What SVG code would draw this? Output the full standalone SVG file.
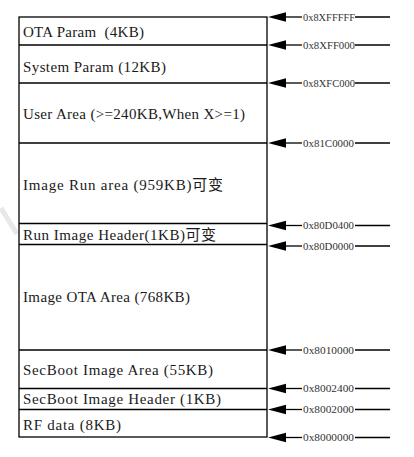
<svg xmlns="http://www.w3.org/2000/svg" xmlns:xlink="http://www.w3.org/1999/xlink" width="414" height="457" viewBox="0 0 414 457">
<style>
.frame{fill:none;stroke:#000;stroke-width:1.3}
.div{stroke:#000;stroke-width:1.3}
.lbl{font-family:"Liberation Serif","Noto Sans CJK SC",serif;font-size:15px;fill:#1a1a1a;white-space:pre}
.addr{font-family:"Liberation Serif",serif;font-size:10.5px;fill:#333}
.cl{stroke:#000;stroke-width:1.3}
</style>
<defs>
<path id="ah" d="M0,0 L18,-4.8 L18,4.8 Z"/>
</defs>
<rect width="414" height="457" fill="#fff"/>
<line x1="1" y1="208" x2="17" y2="234" stroke="#e8e8e8" stroke-width="5"/>
<g id="memory-map">
<rect class="frame" x="19" y="17" width="248" height="420"/>
</g>
<g id="ota-param"><line class="div" x1="19" y1="45" x2="267" y2="45"/><text class="lbl" x="23" y="37" textLength="121" lengthAdjust="spacing" xml:space="preserve">OTA Param  (4KB)</text></g>
<g id="system-param"><line class="div" x1="19" y1="83" x2="267" y2="83"/><text class="lbl" x="23" y="72" textLength="143" lengthAdjust="spacing">System Param (12KB)</text></g>
<g id="user-area"><line class="div" x1="19" y1="143" x2="267" y2="143"/><text class="lbl" x="23" y="118.5" textLength="222" lengthAdjust="spacing">User Area (&gt;=240KB,When X&gt;=1)</text></g>
<g id="image-run-area"><line class="div" x1="19" y1="223.5" x2="267" y2="223.5"/><text class="lbl" x="23" y="189.5" textLength="200" lengthAdjust="spacing">Image Run area (959KB)可变</text></g>
<g id="run-image-header"><line class="div" x1="19" y1="244.5" x2="267" y2="244.5"/><text class="lbl" x="23" y="240" textLength="193" lengthAdjust="spacing">Run Image Header(1KB)可变</text></g>
<g id="image-ota-area"><line class="div" x1="19" y1="350" x2="267" y2="350"/><text class="lbl" x="23" y="302" textLength="167" lengthAdjust="spacing">Image OTA Area (768KB)</text></g>
<g id="secboot-image-area"><line class="div" x1="19" y1="388.5" x2="267" y2="388.5"/><text class="lbl" x="23" y="375" textLength="190" lengthAdjust="spacing">SecBoot Image Area (55KB)</text></g>
<g id="secboot-image-header"><line class="div" x1="19" y1="409.5" x2="267" y2="409.5"/><text class="lbl" x="23" y="404" textLength="198" lengthAdjust="spacing">SecBoot Image Header (1KB)</text></g>
<g id="rf-data"><text class="lbl" x="23" y="430" textLength="98" lengthAdjust="spacing">RF data (8KB)</text></g>
<g id="connectors">
<g id="a1"><use href="#ah" x="268" y="17"/><line class="cl" x1="285" y1="17" x2="302" y2="17"/><line class="cl" x1="355" y1="17" x2="390" y2="17"/><text class="addr" x="303" y="20.5" textLength="52" lengthAdjust="spacingAndGlyphs">0x8XFFFFF</text></g>
<g id="a2"><use href="#ah" x="268" y="45"/><line class="cl" x1="285" y1="45" x2="302" y2="45"/><line class="cl" x1="355" y1="45" x2="390" y2="45"/><text class="addr" x="303" y="48.5" textLength="52" lengthAdjust="spacingAndGlyphs">0x8XFF000</text></g>
<g id="a3"><use href="#ah" x="268" y="83"/><line class="cl" x1="285" y1="83" x2="302" y2="83"/><line class="cl" x1="355" y1="83" x2="390" y2="83"/><text class="addr" x="303" y="86.5" textLength="52" lengthAdjust="spacingAndGlyphs">0x8XFC000</text></g>
<g id="a4"><use href="#ah" x="268" y="143"/><line class="cl" x1="285" y1="143" x2="302" y2="143"/><line class="cl" x1="355" y1="143" x2="390" y2="143"/><text class="addr" x="303" y="146.5" textLength="51" lengthAdjust="spacingAndGlyphs">0x81C0000</text></g>
<g id="a5"><use href="#ah" x="268" y="225.5"/><line class="cl" x1="285" y1="225.5" x2="302" y2="225.5"/><line class="cl" x1="355" y1="225.5" x2="390" y2="225.5"/><text class="addr" x="303" y="229" textLength="51" lengthAdjust="spacingAndGlyphs">0x80D0400</text></g>
<g id="a6"><use href="#ah" x="268" y="246"/><line class="cl" x1="285" y1="246" x2="302" y2="246"/><line class="cl" x1="355" y1="246" x2="390" y2="246"/><text class="addr" x="303" y="249.5" textLength="51" lengthAdjust="spacingAndGlyphs">0x80D0000</text></g>
<g id="a7"><use href="#ah" x="268" y="350"/><line class="cl" x1="285" y1="350" x2="302" y2="350"/><line class="cl" x1="355" y1="350" x2="390" y2="350"/><text class="addr" x="303" y="353.5" textLength="51" lengthAdjust="spacingAndGlyphs">0x8010000</text></g>
<g id="a8"><use href="#ah" x="268" y="388.5"/><line class="cl" x1="285" y1="388.5" x2="302" y2="388.5"/><line class="cl" x1="355" y1="388.5" x2="390" y2="388.5"/><text class="addr" x="303" y="392" textLength="51" lengthAdjust="spacingAndGlyphs">0x8002400</text></g>
<g id="a9"><use href="#ah" x="268" y="409.5"/><line class="cl" x1="285" y1="409.5" x2="302" y2="409.5"/><line class="cl" x1="355" y1="409.5" x2="390" y2="409.5"/><text class="addr" x="303" y="413" textLength="51" lengthAdjust="spacingAndGlyphs">0x8002000</text></g>
<g id="a10"><use href="#ah" x="268" y="437.5"/><line class="cl" x1="285" y1="437.5" x2="302" y2="437.5"/><line class="cl" x1="355" y1="437.5" x2="390" y2="437.5"/><text class="addr" x="303" y="441" textLength="51" lengthAdjust="spacingAndGlyphs">0x8000000</text></g>
</g>
</svg>
